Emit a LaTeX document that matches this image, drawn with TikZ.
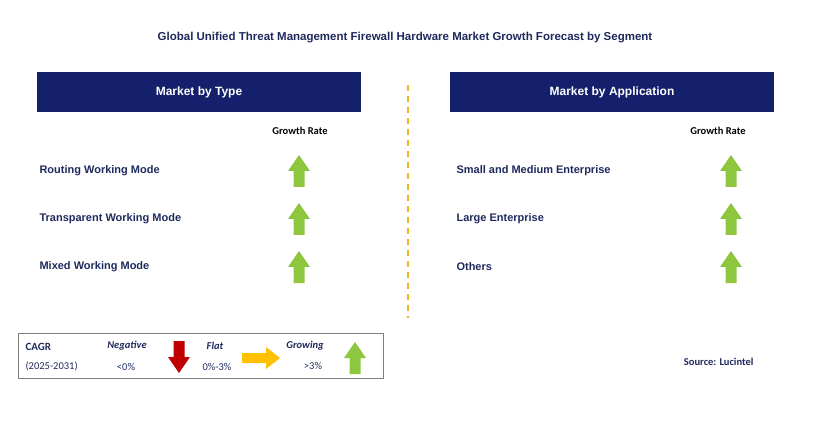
\documentclass[tikz,border=0pt]{standalone}
\usepackage{fontspec}
\setmainfont{Liberation Sans}
\newfontfamily\carlitofont{Carlito}
\definecolor{navy}{HTML}{14206B}
\definecolor{txt}{HTML}{1F2A5C}
\definecolor{grn}{HTML}{8DC63F}
\definecolor{redd}{HTML}{C00000}
\definecolor{yel}{HTML}{FFC000}
\definecolor{dashorange}{HTML}{F5B223}
\begin{document}
\begin{tikzpicture}[x=1pt,y=-1pt,
  hdr/.style={fill=navy,text=white,font=\bfseries\fontsize{12}{14}\selectfont,minimum width=324pt,minimum height=40pt,inner sep=0pt},
  lbl/.style={anchor=west,text=txt,font=\bfseries\fontsize{11}{13}\selectfont},
  gr/.style={text=black,font=\carlitofont\bfseries\fontsize{10.5}{12}\selectfont},
  lg/.style={text=txt,font=\carlitofont\fontsize{10.5}{12}\selectfont},
  lgi/.style={text=txt,font=\carlitofont\bfseries\itshape\fontsize{10.5}{12}\selectfont},
  uparrow/.pic={\fill[grn] (-5.5,16)--(5.5,16)--(5.5,0)--(11,0)--(0,-16)--(-11,0)--(-5.5,0)--cycle;},
  downarrow/.pic={\fill[redd] (-5.5,-16)--(5.5,-16)--(5.5,0)--(11,0)--(0,16)--(-11,0)--(-5.5,0)--cycle;},
  rightarrow/.pic={\fill[yel] (-19,-5)--(5,-5)--(5,-11)--(19,0)--(5,11)--(5,5)--(-19,5)--cycle;}]
\useasboundingbox (0,0) rectangle (823,425);
\node[text=txt,font=\bfseries\fontsize{11.5}{14}\selectfont] (title) at (405,38) {Global Unified Threat Management Firewall Hardware Market Growth Forecast by Segment};
\node[hdr] (h1) at (199,92) {Market by Type};
\node[hdr] (h2) at (612,92) {Market by Application};
\coordinate (d1) at (408,85); \coordinate (d2) at (408,318);
\draw[dashorange,line width=1.2pt,dash pattern=on 6pt off 5pt] (d1)--(d2);
\node[gr] (g1) at (300,131) {Growth Rate};
\node[gr] (g2) at (718,131) {Growth Rate};
\node[lbl] (a1) at (36,171) {Routing Working Mode};
\node[lbl] (a2) at (36,219) {Transparent Working Mode};
\node[lbl] (a3) at (36,267) {Mixed Working Mode};
\node[lbl] (b1) at (453,171) {Small and Medium Enterprise};
\node[lbl] (b2) at (453,219) {Large Enterprise};
\node[lbl] (b3) at (453,267) {Others};
\foreach \y in {171,219,267}{\pic at (299,\y) {uparrow}; \pic at (731,\y) {uparrow};}
\draw[gray,line width=0.8pt] (18,333) rectangle (383,378);
\node[text=txt,font=\carlitofont\bfseries\fontsize{11}{13}\selectfont,anchor=west] (c1) at (22,347) {CAGR};
\node[lg,anchor=west] (c2) at (22,366) {(2025-2031)};
\node[lgi] (n1) at (127,346) {Negative};
\node[lg] (n2) at (126,367) {<0\%};
\pic at (179,357) {downarrow};
\node[lgi] (f1) at (215,346) {Flat};
\node[lg] (f2) at (217,367) {0\%-3\%};
\pic at (261,358) {rightarrow};
\node[lgi] (w1) at (305,346) {Growing};
\node[lg] (w2) at (313,366) {>3\%};
\pic at (355,358) {uparrow};
\node[text=txt,font=\carlitofont\bfseries\fontsize{10.5}{12}\selectfont,anchor=east] (src) at (757,362) {Source: Lucintel};
\end{tikzpicture}
\end{document}
